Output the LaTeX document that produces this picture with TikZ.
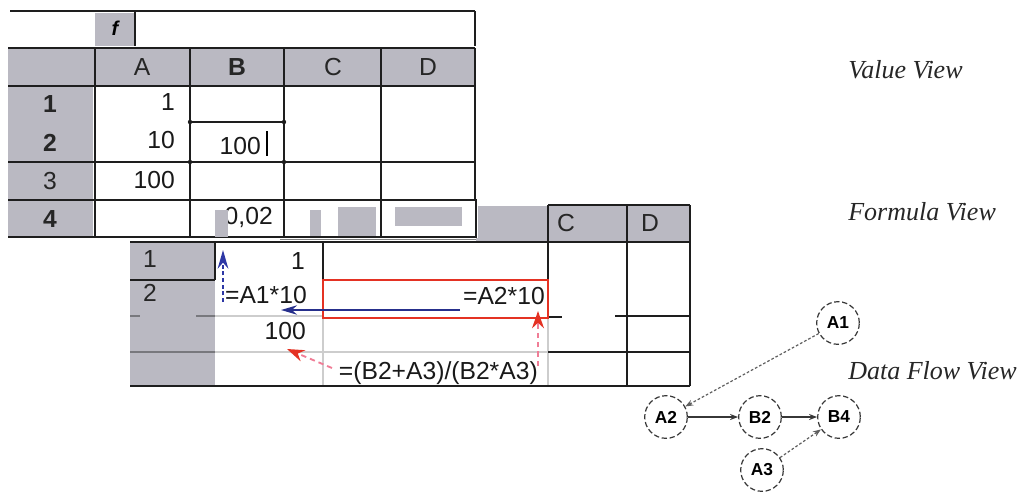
\documentclass[tikz,border=0pt]{standalone}
\usepackage{fontspec}
\setmainfont{Liberation Sans}
\newfontfamily\labelfont{Liberation Serif}
\usetikzlibrary{arrows.meta}

\definecolor{hdrgray}{RGB}{186,185,194}
\definecolor{gridline}{RGB}{30,30,30}
\definecolor{faintline}{RGB}{205,205,205}
\definecolor{midline}{RGB}{120,120,125}
\definecolor{refblue}{RGB}{45,55,165}
\definecolor{refred}{RGB}{228,50,35}
\definecolor{refpink}{RGB}{240,125,150}
\definecolor{nodegray}{RGB}{55,55,55}

\tikzset{
  grid/.style={draw=gridline, line width=1.5pt},
  thingrid/.style={draw=gridline, line width=1.1pt},
  faint/.style={draw=faintline, line width=0.9pt},
  cell/.style={font=\fontsize{18.5}{18.5}\selectfont, inner sep=0pt, text=black!90},
  hdr/.style={font=\fontsize{18.5}{18.5}\selectfont, inner sep=0pt, text=black!85},
  hdrbold/.style={hdr, font=\bfseries\fontsize{18.5}{18.5}\selectfont},
  viewlabel/.style={font=\labelfont\itshape\fontsize{19.5}{20}\selectfont, anchor=west, inner sep=0pt, text=black!85},
  flownode/.style={circle, draw=nodegray, line width=0.9pt, dash pattern=on 4pt off 2pt,
    minimum size=32pt, inner sep=0pt, fill=white, font=\bfseries\fontsize{13}{13}\selectfont},
  flowedge/.style={draw=nodegray, line width=1.2pt, -{Stealth[length=6pt, width=4.5pt]}},
  flowdash/.style={draw=nodegray!80, line width=0.9pt, dash pattern=on 2pt off 1.5pt, -{Stealth[length=6pt, width=4.5pt]}},
  blueup/.style={draw=refblue, line width=1.5pt, dash pattern=on 3pt off 2pt, -{Stealth[length=14pt, width=8pt, color=refblue]}},
  blueleft/.style={draw=refblue!85!black, line width=1.6pt, -{Stealth[length=12pt, width=7pt]}},
  redlink/.style={draw=refpink, line width=1.4pt, dash pattern=on 4pt off 3pt, -{Stealth[length=13pt, width=9pt, color=refred]}},
}

\begin{document}
\begin{tikzpicture}[x=0.75pt, y=-0.75pt]
\useasboundingbox (0,0) rectangle (1027,497);

% ---------------- formula view sheet (behind) ----------------
% header strip
\fill[hdrgray] (476,206) rectangle (690,242);
% row header column
\fill[hdrgray] (130,242) rectangle (215,386);
% header lines
\draw[grid] (548,205) -- (690,205);
\draw[grid] (548,205) -- (548,242);
\draw[thingrid] (130,242) -- (690,242);
% column lines
\draw[grid] (627,205) -- (627,386);
\draw[grid] (690,205) -- (690,386);
\draw[thingrid] (215,242) -- (215,280);
\draw[thingrid] (323,242) -- (323,280);
\draw[thingrid] (548,242) -- (548,280);
\draw[faint] (323,318) -- (323,386);
\draw[faint] (548,318) -- (548,386);
% row lines
\draw[thingrid] (130,280) -- (215,280);
\draw[draw=midline, line width=0.8pt] (130,316) -- (140,316) (196,316) -- (215,316);
\draw[faint] (215,316) -- (323,316);
\draw[thingrid] (548,317) -- (562,317);
\draw[thingrid] (615,316) -- (690,316);
\draw[draw=midline, line width=0.9pt] (130,352) -- (215,352);
\draw[faint] (215,352) -- (548,352);
\draw[thingrid] (548,352) -- (690,352);
\draw[grid] (130,386) -- (690,386);

% header and row labels
\node[hdr] (fC) at (566,223) {C};
\node[hdr] (fD) at (650,223) {D};
\node[hdr] (fr1) at (150,259) {1};
\node[hdr] (fr2) at (150,293) {2};

% cell contents
\node[cell, anchor=east] (fA1) at (305,261) {1};
\node[cell, anchor=east] (fA2) at (307,295) {=A1*10};
\node[cell, anchor=east] (fA3) at (306,331) {100};
\node[cell, anchor=east] (fB2) at (545,296) {=A2*10};
\node[cell, anchor=east] (fB4) at (538,373) {=(B2+A3)/(B2*A3)};

% highlighted cell B2
\draw[draw=refred, line width=1.3pt] (323,280) rectangle (548,318);

% reference arrows
\coordinate (blueStartA) at (223,302);
\coordinate (blueEndA) at (223,250);
\coordinate (blueStartB) at (460,310);
\coordinate (blueEndB) at (281,310);
\coordinate (redStartA) at (538,366);
\coordinate (redEndA) at (538,311);
\coordinate (redStartB) at (332,368);
\coordinate (redEndB) at (287,349);
\draw[blueup] (blueStartA) -- (blueEndA);
\draw[blueleft] (blueStartB) -- (blueEndB);
\draw[redlink] (redStartA) -- (redEndA);
\draw[redlink] (redStartB) -- (redEndB);

% ---------------- value view sheet (in front) ----------------
\fill[white] (8,8) rectangle (478,238);
% formula bar
\fill[hdrgray] (95,13) rectangle (135,46);
\draw[grid] (10,11) -- (475,11);
\draw[grid] (135,11) -- (135,46);
\draw[thingrid] (475,11) -- (475,46);
\node[font=\bfseries\itshape\fontsize{15}{15}\selectfont, inner sep=0pt] (fx) at (115,28) {f};
% header row and row header column
\fill[hdrgray] (8,48) rectangle (475,86);
\fill[hdrgray] (8,86) rectangle (93,237);
% horizontal lines
\draw[grid] (8,48) -- (475,48);
\draw[grid] (8,86) -- (475,86);
\draw[grid] (8,162) -- (475,162);
\draw[grid] (8,200) -- (475,200);
\draw[grid] (8,237) -- (381,237);
\draw[draw=gray, line width=1.4pt] (280,239.5) -- (476,239.5);
% vertical lines
\draw[grid] (95,48) -- (95,237);
\draw[grid] (190,48) -- (190,237);
\draw[grid] (284,48) -- (284,237);
\draw[grid] (381,48) -- (381,200);
\draw[grid] (475,48) -- (475,200);
% selected cell B2
\draw[draw=gridline, line width=2.2pt] (190,122) rectangle (284,162);
\foreach \p in {(190,122),(284,122),(190,162),(284,162)} \fill[gridline] \p circle (2.2);
% D4 box
\draw[thingrid] (381,200) rectangle (476,237);
\fill[hdrgray] (395,207) rectangle (462,226);
% C4 patches
\fill[hdrgray] (310,210) rectangle (321,236);
\fill[hdrgray] (338,207) rectangle (376,236);

% header labels
\node[hdr] (vA) at (142,67) {A};
\node[hdrbold] (vB) at (237,67) {B};
\node[hdr] (vC) at (333,67) {C};
\node[hdr] (vD) at (428,67) {D};
\node[hdrbold] (vr1) at (50,104) {1};
\node[hdrbold] (vr2) at (50,143) {2};
\node[hdr] (vr3) at (50,181) {3};
\node[hdrbold] (vr4) at (50,219) {4};

% values
\node[cell, anchor=east] (vA1) at (175,102) {1};
\node[cell, anchor=east] (vA2) at (175,140) {10};
\node[cell, anchor=east] (vA3) at (175,180) {100};
\node[cell, anchor=east] (vB2) at (261,146) {100};
\draw[draw=black, line width=2pt] (267,131) -- (267,156);
\node[cell, anchor=east] (vB4) at (273,217) {0,02};
\fill[hdrgray] (215,210) rectangle (228,237);

% ---------------- view labels ----------------
\node[viewlabel] (lv) at (848,70) {Value View};
\node[viewlabel] (lf) at (848,212) {Formula View};
\node[viewlabel] (ld) at (848,371) {Data Flow View};

% ---------------- data flow graph ----------------
\node[flownode] (A1) at (838,323) {A1};
\node[flownode] (A2) at (666,417) {A2};
\node[flownode] (B2) at (760,417) {B2};
\node[flownode] (B4) at (839,417) {B4};
\node[flownode] (A3) at (762,470) {A3};
\draw[flowdash] (A1) -- (A2);
\draw[flowedge] (A2) -- (B2);
\draw[flowedge] (B2) -- (B4);
\draw[flowdash] (A3) -- (B4);
\end{tikzpicture}
\end{document}
